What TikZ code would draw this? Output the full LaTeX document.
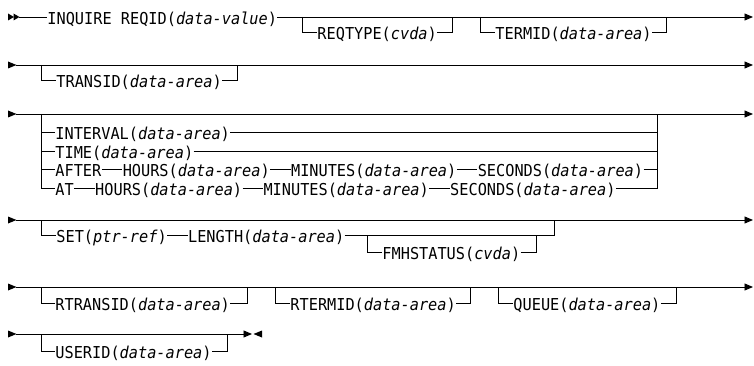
\documentclass[tikz,border=0pt]{standalone}
\usepackage{fontspec}
\setmonofont[FakeStretch=0.93]{DejaVu Sans Mono}
\usetikzlibrary{arrows.meta,positioning}
\begin{document}
\begin{tikzpicture}[x=1pt,y=-1pt,line width=0.9pt,
  txt/.style={anchor=west,inner xsep=0pt,inner ysep=0pt,text height=14.6pt,text depth=0pt,
    font=\fontsize{16.4}{19}\selectfont\ttfamily},
  endarrow/.style={-{Triangle[length=8.5pt,width=7pt]}},
  link/.style={right=20.5pt of #1}]
\useasboundingbox (0,0) rectangle (754,366);

% ---------- row 1 ----------
\fill (8,13.5) -- (14,17) -- (8,20.5) -- cycle;
\fill (13.5,13.5) -- (19.5,17) -- (13.5,20.5) -- cycle;
\coordinate (r1s) at (19,17);
\coordinate (r1e) at (753,17);
\node[txt] (inq) at (47,17) {INQUIRE REQID(\textit{data-value})};
\draw (r1s) -- (inq.west);
\draw[endarrow] (inq.east) -- (r1e);
\coordinate (rq1) at (302,17); \coordinate (rq2) at (452,17);
\node[txt] (reqtype) at (317,32) {REQTYPE(\textit{cvda})};
\draw (rq1) |- (reqtype.west); \draw (reqtype.east) -| (rq2);
\coordinate (tm1) at (480,17); \coordinate (tm2) at (666,17);
\node[txt] (termid) at (495,32) {TERMID(\textit{data-area})};
\draw (tm1) |- (termid.west); \draw (termid.east) -| (tm2);

% ---------- row 2 ----------
\fill (8,61.5) -- (16.5,65) -- (8,68.5) -- cycle;
\coordinate (r2s) at (16,65); \coordinate (r2e) at (753,65);
\draw[endarrow] (r2s) -- (r2e);
\coordinate (tr1) at (41,65); \coordinate (tr2) at (237,65);
\node[txt] (transid) at (56,80) {TRANSID(\textit{data-area})};
\draw (tr1) |- (transid.west); \draw (transid.east) -| (tr2);

% ---------- row 3 ----------
\fill (8,110.5) -- (16.5,114) -- (8,117.5) -- cycle;
\coordinate (r3s) at (16,114); \coordinate (r3e) at (753,114);
\draw[endarrow] (r3s) -- (r3e);
\coordinate (ti1) at (41,114); \coordinate (ti2) at (657,114);
\node[txt] (interval) at (55,132.5) {INTERVAL(\textit{data-area})};
\node[txt] (time) at (55,151) {TIME(\textit{data-area})};
\node[txt] (after) at (55,169.5) {AFTER};
\node[txt,link=after] (ahours) {HOURS(\textit{data-area})};
\node[txt,link=ahours] (amin) {MINUTES(\textit{data-area})};
\node[txt,link=amin] (asec) {SECONDS(\textit{data-area})};
\node[txt] (at) at (55,188) {AT};
\node[txt,link=at] (thours) {HOURS(\textit{data-area})};
\node[txt,link=thours] (tmin) {MINUTES(\textit{data-area})};
\node[txt,link=tmin] (tsec) {SECONDS(\textit{data-area})};
\draw (ti1) |- (at.west);
\draw (interval.west -| ti1) -- (interval.west);
\draw (time.west -| ti1) -- (time.west);
\draw (after.west -| ti1) -- (after.west);
\draw (after) -- (ahours); \draw (ahours) -- (amin); \draw (amin) -- (asec);
\draw (at) -- (thours); \draw (thours) -- (tmin); \draw (tmin) -- (tsec);
\draw (tsec.east) -| (ti2);
\draw (interval.east) -- (interval.east -| ti2);
\draw (time.east) -- (time.east -| ti2);
\draw (asec.east) -- (asec.east -| ti2);

% ---------- row 5 ----------
\fill (8,216.5) -- (16.5,220) -- (8,223.5) -- cycle;
\coordinate (r5s) at (16,220); \coordinate (r5e) at (753,220);
\draw[endarrow] (r5s) -- (r5e);
\coordinate (st1) at (41,220); \coordinate (st2) at (554,220);
\node[txt] (set) at (56,235) {SET(\textit{ptr-ref})};
\node[txt,link=set] (length) {LENGTH(\textit{data-area})};
\draw (st1) |- (set.west); \draw (set) -- (length); \draw (length.east) -| (st2);
\coordinate (fm1) at (367,235); \coordinate (fm2) at (536,235);
\node[txt] (fmh) at (382,252) {FMHSTATUS(\textit{cvda})};
\draw (fm1) |- (fmh.west); \draw (fmh.east) -| (fm2);

% ---------- row 6 ----------
\fill (8,283.5) -- (16.5,287) -- (8,290.5) -- cycle;
\coordinate (r6s) at (16,287); \coordinate (r6e) at (753,287);
\draw[endarrow] (r6s) -- (r6e);
\coordinate (rt1) at (41,287); \coordinate (rt2) at (247,287);
\node[txt] (rtransid) at (55,303) {RTRANSID(\textit{data-area})};
\draw (rt1) |- (rtransid.west); \draw (rtransid.east) -| (rt2);
\coordinate (rm1) at (275,287); \coordinate (rm2) at (470,287);
\node[txt] (rtermid) at (290,303) {RTERMID(\textit{data-area})};
\draw (rm1) |- (rtermid.west); \draw (rtermid.east) -| (rm2);
\coordinate (qu1) at (498,287); \coordinate (qu2) at (676,287);
\node[txt] (queue) at (513,303) {QUEUE(\textit{data-area})};
\draw (qu1) |- (queue.west); \draw (queue.east) -| (qu2);

% ---------- row 7 ----------
\fill (8,330.5) -- (16.5,334) -- (8,337.5) -- cycle;
\coordinate (r7s) at (16,334); \coordinate (r7e) at (252,334);
\draw[endarrow] (r7s) -- (r7e);
\fill (262,330.5) -- (253.5,334) -- (262,337.5) -- cycle;
\coordinate (us1) at (41,334); \coordinate (us2) at (227,334);
\node[txt] (userid) at (55,351) {USERID(\textit{data-area})};
\draw (us1) |- (userid.west); \draw (userid.east) -| (us2);
\end{tikzpicture}
\end{document}
